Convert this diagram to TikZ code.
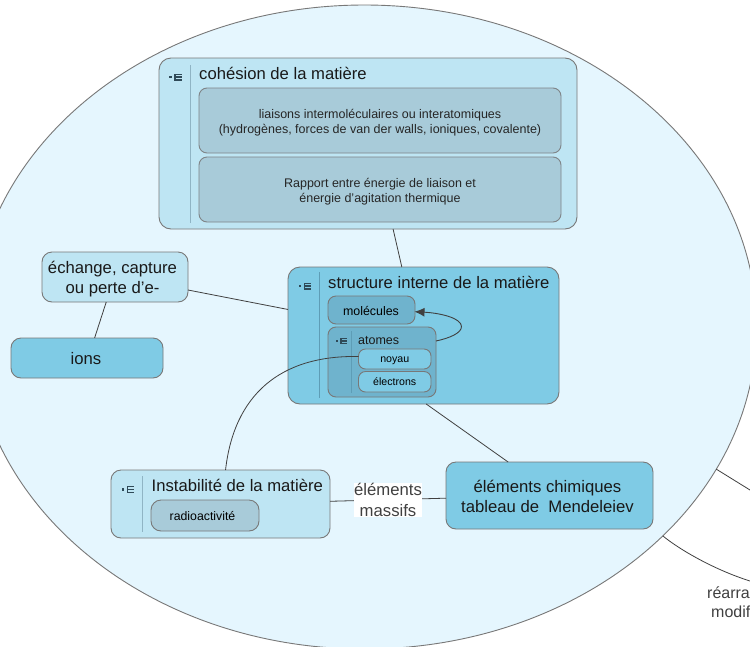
\documentclass[tikz,border=0pt]{standalone}
\usepackage{fontspec}
\setmainfont{Liberation Sans}
\usetikzlibrary{calc,arrows.meta,shapes.geometric}
\definecolor{bgE}{HTML}{E5F6FE}
\definecolor{lightB}{HTML}{BEE5F3}
\definecolor{midB}{HTML}{7FCBE5}
\definecolor{innerG}{HTML}{A8CBD9}
\definecolor{innerB}{HTML}{6FB3CD}
\definecolor{edgeG}{HTML}{787878}
\definecolor{lineG}{HTML}{404040}
\definecolor{sideA}{HTML}{8FB4C4}
\definecolor{sideB}{HTML}{5E9DB6}
\definecolor{iconC}{HTML}{2F4A58}
\newcommand{\dn}[2]{\raisebox{-#1pt}[\height][\depth]{#2}}
\tikzset{
  x=1pt,y=-1pt,
  boxN/.style={draw=edgeG,line width=0.9pt,outer sep=0pt,rounded corners=#1,inner sep=0pt,align=center,anchor=north west},
  boxN/.default=8pt,
  conn/.style={draw=lineG,line width=0.8pt},
  ttl/.style={inner sep=0pt,anchor=base west,font=\fontsize{16.65}{18}\selectfont,text=black!90},
  bigtxt/.style={font=\fontsize{16.7}{20.5}\selectfont,text=black!90},
  smalltxt/.style={font=\fontsize{12.5}{15}\selectfont,text=black!85},
  pics/treeicon/.style={code={
    \fill[iconC] (-6.5,-1.3) rectangle (-4,1.3);
    \fill[iconC] (-1.5,-3.5) rectangle (6,-2.2);
    \fill[iconC] (-1.5,-0.7) rectangle (6,0.7);
    \fill[iconC] (-1.5,2.2) rectangle (6,3.5);
    \fill[iconC] (-1.5,-3.5) rectangle (0,3.5);
  }}
}
\begin{document}
\begin{tikzpicture}
\useasboundingbox (0,0) rectangle (750,646);
\clip (0,0) rectangle (750,646);
\fill[white] (0,0) rectangle (750,646);
\node[draw=edgeG,line width=0.9pt,outer sep=0pt,fill=bgE,ellipse,inner sep=0pt,minimum width=784pt,minimum height=644pt] (world) at (364.5,327) {};

% boxes
\node[boxN=12pt,fill=lightB,minimum width=418pt,minimum height=171pt] (cohesion) at (159,58) {};
\node[boxN=12pt,fill=midB,minimum width=271pt,minimum height=137pt] (structure) at (288,267) {};
\node[boxN=10pt,fill=lightB,minimum width=219pt,minimum height=68pt] (instab) at (111,470) {};
\node[boxN=10pt,bigtxt,fill=midB,minimum width=207pt,minimum height=67pt] (elements) at (446,462) {\dn{1}{éléments chimiques}\hspace*{4pt}\\\dn{1}{tableau de~~Mendeleiev}\hspace*{4pt}};
\node[boxN=10pt,bigtxt,fill=lightB,minimum width=146pt,minimum height=50pt] (echange) at (42,252) {\dn{2}{échange, capture}\hspace*{5pt}\\\dn{2}{ou perte d'e-}\hspace*{5pt}};
\node[boxN=10pt,bigtxt,fill=midB,minimum width=152pt,minimum height=40pt] (ions) at (11,338) {\dn{1}{ions}\hspace*{2pt}};

% connectors
\draw[conn] ($(cohesion.south west)!0.56!(cohesion.south east)$) -- ($(structure.north west)!0.42!(structure.north east)$);
\draw[conn] ($(echange.south east)!0.24!(echange.north east)$) -- ($(structure.north west)!0.31!(structure.south west)$);
\draw[conn] ($(echange.south west)!0.44!(echange.south east)$) -- ($(ions.north west)!0.55!(ions.north east)$);
\draw[conn] ($(structure.south west)!0.51!(structure.south east)$) -- ($(elements.north west)!0.30!(elements.north east)$);

% inner nodes
\node[boxN=8pt,smalltxt,draw=edgeG!85!innerG,fill=innerG,minimum width=362pt,minimum height=65pt] (liaisons) at (199,88) {\dn{2}{liaisons intermoléculaires ou interatomiques}\\\dn{2}{(hydrogènes, forces de van der walls, ioniques, covalente)}};
\node[boxN=8pt,smalltxt,draw=edgeG!85!innerG,fill=innerG,minimum width=362pt,minimum height=65pt] (rapport) at (199,157) {\dn{2}{Rapport entre énergie de liaison et}\\\dn{2}{énergie d'agitation thermique}};
\node[boxN=8pt,font=\fontsize{12.4}{14}\selectfont,fill=innerB,minimum width=87pt,minimum height=28pt] (molecules) at (328,296) {\dn{1}{molécules}\hspace*{1pt}};
\node[boxN=8pt,fill=innerB,minimum width=108pt,minimum height=70pt] (atomes) at (328,327) {};
\node[boxN=7pt,font=\fontsize{10.6}{12}\selectfont,fill=midB,minimum width=72.5pt,minimum height=20pt] (noyau) at (358.5,349) {\dn{1.5}{noyau}};
\node[boxN=7pt,font=\fontsize{10.6}{12}\selectfont,fill=midB,minimum width=72.5pt,minimum height=20.5pt] (electrons) at (358.5,371.5) {électrons};
\node[boxN=10pt,font=\fontsize{12.3}{14}\selectfont,draw=edgeG,fill=innerG,minimum width=108pt,minimum height=31pt] (radio) at (151,500) {\dn{1}{radioactivité}\hspace*{5pt}};

% side rules
\draw[sideA,line width=0.9pt] ($(cohesion.north west)+(31,7)$) -- ($(cohesion.south west)+(31,-6)$);
\draw[sideB,line width=0.9pt] ($(structure.north west)+(31,5)$) -- ($(structure.south west)+(31,-6)$);
\draw[sideB,line width=0.9pt] ($(atomes.north west)+(23.6,4)$) -- ($(atomes.south west)+(23.6,-4)$);
\draw[sideA,line width=0.9pt] ($(instab.north west)+(31,6)$) -- ($(instab.south west)+(31,-6)$);

% icons
\pic at ($(cohesion.north west)+(16.5,19)$) {treeicon};
\pic at ($(structure.north west)+(17,19)$) {treeicon};
\pic[scale=0.85] at ($(atomes.north west)+(13.5,14)$) {treeicon};
\pic at ($(instab.north west)+(17,19.5)$) {treeicon};

% titles
\node[ttl] (t1) at (199,79) {cohésion de la matière};
\node[ttl] (t2) at (328,288) {structure interne de la matière};
\node[ttl,font=\fontsize{12.5}{14}\selectfont] (t3) at (358,344) {atomes};
\node[ttl] (t4) at (151.5,491.5) {Instabilité de la matière};

% curved connectors
\draw[conn,line width=0.9pt,-{Latex[length=10pt,width=9pt]}] ($(atomes.north east)!0.2!(atomes.south east)$) .. controls (450,338) and (461.5,333) .. (461.5,326.5) .. controls (461.5,318) and (440,313) .. ($(molecules.east)+(-0.5,1.7)$);
\draw[conn] ($(noyau.west)+(0,-2.5)$) .. controls (280,355) and (234,395) .. ($(instab.north west)!0.523!(instab.north east)$);

% label with edge
\draw[conn] ($(instab.north east)!0.46!(instab.south east)$) -- ($(elements.north west)!0.54!(elements.south west)$) node[pos=0.5,fill=white,inner sep=0.5pt,align=center,font=\fontsize{16.7}{20.5}\selectfont,text=lineG] (edgelab) {éléments\\massifs};

% exterior
\coordinate (o1) at (750,490);
\coordinate (o2) at (750,581);
\draw[conn] (world.-22.9) -- (o1);
\draw[conn] (world.-35.1) .. controls (680,550) and (715,570) .. (o2);
\node[inner sep=0pt,anchor=base west,font=\fontsize{16}{18}\selectfont,text=lineG] (r1) at (707,598) {réarra};
\node[inner sep=0pt,anchor=base west,font=\fontsize{16}{18}\selectfont,text=lineG] (r2) at (711,617) {modif};
\end{tikzpicture}
\end{document}
